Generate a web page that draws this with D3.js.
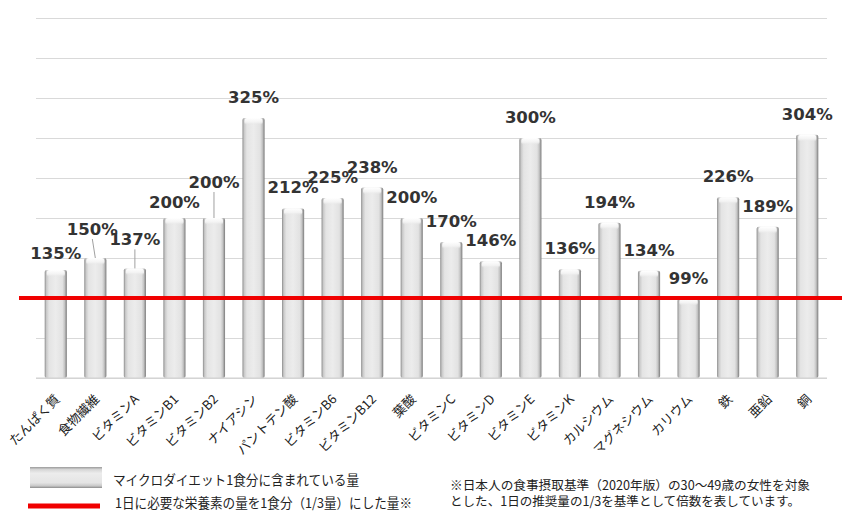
<!DOCTYPE html>
<html>
<head>
<meta charset="utf-8">
<script src="https://d3js.org/d3.v7.min.js"></script>
<style>
  body { margin: 0; background: #fff; }
  svg { display: block; }
</style>
</head>
<body>
<svg width="850" height="520"></svg>
<script>
// nutrients and % of (daily need / 3) per serving
var categories = ["たんぱく質", "食物繊維", "ビタミンA", "ビタミンB1", "ビタミンB2", "ナイアシン",
  "パントテン酸", "ビタミンB6", "ビタミンB12", "葉酸", "ビタミンC", "ビタミンD", "ビタミンE",
  "ビタミンK", "カルシウム", "マグネシウム", "カリウム", "鉄", "亜鉛", "銅"];
var values = [135, 150, 137, 200, 200, 325, 212, 225, 238, 200, 170, 146, 300, 136, 194, 134, 99, 226, 189, 304];
var reference = 100;
var gridTicks = [0, 50, 100, 150, 200, 250, 300, 350, 400, 450];
// labels that were lifted off their bar (with a leader line)
var labelLift = [4, -8, -8, 5, -15, 0, 0, 0, 0, 0, 0, 0, 0, 0, 0, 0, 0, 0, 0, 0];
var legendLabels = ["マイクロダイエット1食分に含まれている量", "1日に必要な栄養素の量を1食分（1/3量）にした量※"];
var noteLines = ["※日本人の食事摂取基準（2020年版）の30～49歳の女性を対象",
  "とした、1日の推奨量の1/3を基準として倍数を表しています。"];

var svg = d3.select("svg");
var plotLeft = 36, plotRight = 827, plotTop = 18, plotBottom = 378;

var x = d3.scaleBand()
    .domain(categories)
    .range([plotLeft, plotRight])
    .paddingInner(0.44)
    .paddingOuter(0.22);
var y = d3.scaleLinear()
    .domain([0, 450])
    .range([plotBottom, plotTop]);

var defs = svg.append("defs");
var g1 = defs.append("linearGradient").attr("id", "barGrad")
    .attr("x1", "0").attr("x2", "1").attr("y1", "0").attr("y2", "0");
[[0, "#8c8c8c"], [0.08, "#c9c9c9"], [0.2, "#e4e4e4"], [0.5, "#ececec"], [0.8, "#e2e2e2"], [0.9, "#c4c4c4"], [1, "#7a7a7a"]]
  .forEach(function(s){ g1.append("stop").attr("offset", s[0]).attr("stop-color", s[1]); });
var g2 = defs.append("linearGradient").attr("id", "capGrad")
    .attr("x1", "0").attr("x2", "0").attr("y1", "0").attr("y2", "1");
[[0, "#ffffff", 1], [0.6, "#f4f4f4", 0.9], [1, "#e6e6e6", 0]]
  .forEach(function(s){ g2.append("stop").attr("offset", s[0]).attr("stop-color", s[1]).attr("stop-opacity", s[2]); });
var g3 = defs.append("linearGradient").attr("id", "legGrad")
    .attr("x1", "0").attr("x2", "0").attr("y1", "0").attr("y2", "1");
[[0, "#9a9a9a"], [0.12, "#d6d6d6"], [0.3, "#ececec"], [0.75, "#e4e4e4"], [0.9, "#c8c8c8"], [1, "#8a8a8a"]]
  .forEach(function(s){ g3.append("stop").attr("offset", s[0]).attr("stop-color", s[1]); });

// gridlines
var grid = svg.append("g")
    .attr("transform", "translate(" + plotLeft + ",0)")
    .call(d3.axisLeft(y).tickValues(gridTicks).tickSize(-(plotRight - plotLeft)).tickFormat(""));
grid.select(".domain").remove();
grid.selectAll("line").attr("stroke", "#d9d9d9").attr("stroke-width", 1);

// bars
var bars = svg.selectAll(".bar")
    .data(values)
    .enter().append("g")
      .attr("class", "bar");
bars.append("rect")
    .attr("x", function(d, i){ return x(categories[i]); })
    .attr("y", function(d){ return y(d); })
    .attr("width", x.bandwidth())
    .attr("height", function(d){ return y(0) - y(d); })
    .attr("rx", 2)
    .attr("fill", "url(#barGrad)");
bars.append("rect")
    .attr("x", function(d, i){ return x(categories[i]) + 2; })
    .attr("y", function(d){ return y(d); })
    .attr("width", x.bandwidth() - 4)
    .attr("height", 7)
    .attr("rx", 3)
    .attr("fill", "url(#capGrad)");

// leader lines for lifted labels
bars.each(function(d, i){
  if (labelLift[i] > -5) return;
  var cx = x(categories[i]) + x.bandwidth() / 2;
  d3.select(this).append("line")
    .attr("x1", cx - (i === 1 ? 3 : 0)).attr("x2", cx)
    .attr("y1", y(d) - 11 + labelLift[i]).attr("y2", y(d))
    .attr("stroke", "#a0a0a0")
    .attr("stroke-width", 1);
});

// value labels
bars.append("text")
    .attr("x", function(d, i){ return x(categories[i]) + x.bandwidth() / 2 - (i === 1 ? 3 : 0); })
    .attr("y", function(d, i){ return y(d) - 15 + labelLift[i]; })
    .attr("text-anchor", "middle")
    .attr("font-family", "'DejaVu Sans', Verdana, sans-serif")
    .attr("font-weight", "bold")
    .attr("font-size", 16.5)
    .attr("fill", "#333")
    .text(function(d){ return d + "%"; });

// baseline
svg.append("line")
    .attr("x1", plotLeft).attr("x2", plotRight)
    .attr("y1", y(0)).attr("y2", y(0))
    .attr("stroke", "#d0d0d0");

// 1/3 daily need reference line
svg.append("line")
    .attr("x1", 19).attr("x2", 842)
    .attr("y1", y(reference)).attr("y2", y(reference))
    .attr("stroke", "#f00000")
    .attr("stroke-width", 4);

// category labels
svg.selectAll(".xlab")
    .data(categories)
    .enter().append("text")
      .attr("class", "xlab")
      .attr("transform", function(d){
        return "translate(" + (x(d) + x.bandwidth() / 2 + 5) + ",400) rotate(-45)";
      })
      .attr("text-anchor", "end")
      .attr("font-family", "'Noto Sans CJK JP', sans-serif")
      .attr("font-size", 13)
      .attr("fill", "#222")
      .text(function(d){ return d; });

// legend
svg.append("rect")
    .attr("x", 30).attr("y", 467).attr("width", 72).attr("height", 21)
    .attr("fill", "url(#legGrad)");
svg.append("line")
    .attr("x1", 28).attr("x2", 100).attr("y1", 506).attr("y2", 506)
    .attr("stroke", "#f00000").attr("stroke-width", 5);
svg.selectAll(".leg")
    .data(legendLabels)
    .enter().append("text")
      .attr("class", "leg")
      .attr("x", function(d, i){ return i === 0 ? 113 : 115; })
      .attr("y", function(d, i){ return i === 0 ? 485 : 508; })
      .attr("font-family", "'Noto Sans CJK JP', sans-serif")
      .attr("font-size", 13.5)
      .attr("textLength", function(d, i){ return i === 0 ? 246 : 297; })
      .attr("lengthAdjust", "spacingAndGlyphs")
      .attr("fill", "#222")
      .text(function(d){ return d; });
svg.selectAll(".note")
    .data(noteLines)
    .enter().append("text")
      .attr("class", "note")
      .attr("x", 450)
      .attr("y", function(d, i){ return 490 + i * 16; })
      .attr("font-family", "'Noto Sans CJK JP', sans-serif")
      .attr("font-size", 12.5)
      .attr("textLength", function(d, i){ return i === 0 ? 360 : 350; })
      .attr("lengthAdjust", "spacingAndGlyphs")
      .attr("fill", "#222")
      .text(function(d){ return d; });
</script>
</body>
</html>
